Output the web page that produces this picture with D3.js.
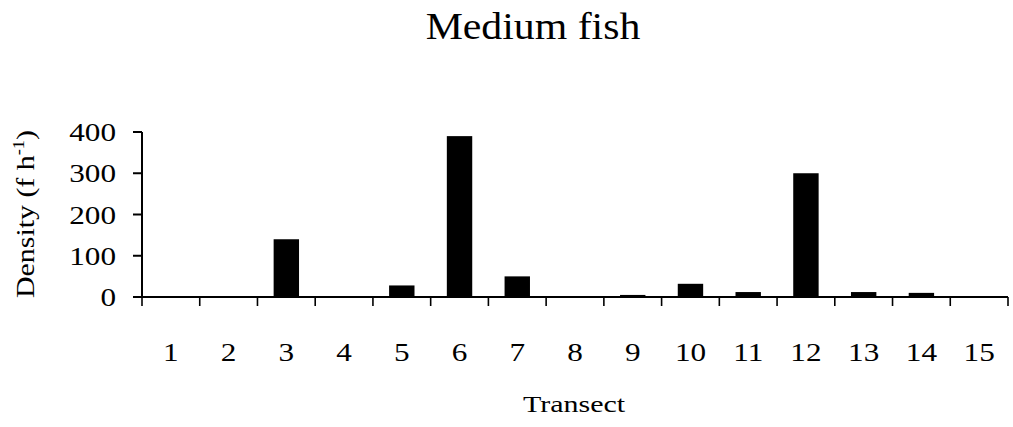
<!DOCTYPE html>
<html>
<head>
<meta charset="utf-8">
<script src="https://cdn.jsdelivr.net/npm/d3@7"></script>
<style>
  html, body { margin: 0; padding: 0; background: #fff; }
  svg { display: block; }
  text { font-family: "Liberation Serif", "Times New Roman", serif; fill: #000; }
</style>
</head>
<body>
<svg id="chart" width="1013" height="427"></svg>
<script>
// Medium fish density per transect
const transects = ["1","2","3","4","5","6","7","8","9","10","11","12","13","14","15"];
const density   = [2, 2, 140, 0, 28, 390, 50, 2, 5, 32, 12, 300, 12, 10, 0];
const yTicks    = [0, 100, 200, 300, 400];

const svg = d3.select("#chart");
const margin = { left: 142, right: 1008, top: 132, bottom: 297 };

const x = d3.scaleBand().domain(transects).range([margin.left, margin.right]).padding(0);
const y = d3.scaleLinear().domain([0, 400]).range([margin.bottom, margin.top]);

const barW = x.bandwidth() * 0.44;

// helper: text stretched horizontally around its anchor point
function stretched(g, tx, ty, sx, rot) {
  return g.append("text")
    .attr("transform", `translate(${tx},${ty})` + (rot ? ` rotate(${rot})` : "") + ` scale(${sx},1)`);
}

// title
stretched(svg, 533, 39, 1.1).attr("text-anchor", "middle").attr("font-size", 38).text("Medium fish");

// bars
svg.append("g").selectAll("rect")
  .data(density)
  .join("rect")
  .attr("x", (d, i) => x(transects[i]) + (x.bandwidth() - barW) / 2)
  .attr("width", barW)
  .attr("y", d => y(d))
  .attr("height", d => y(0) - y(d))
  .attr("fill", "#000");

// y axis
const yAxis = svg.append("g");
yAxis.append("line")
  .attr("x1", margin.left).attr("x2", margin.left)
  .attr("y1", y(400)).attr("y2", y(0))
  .attr("stroke", "#000").attr("stroke-width", 2);
yAxis.selectAll("line.tick")
  .data(yTicks)
  .join("line")
  .attr("class", "tick")
  .attr("x1", margin.left - 9).attr("x2", margin.left)
  .attr("y1", d => y(d)).attr("y2", d => y(d))
  .attr("stroke", "#000").attr("stroke-width", 2);
yTicks.forEach(t => {
  stretched(yAxis, 116, y(t) + 9, 1.2).attr("text-anchor", "end").attr("font-size", 26).text(t);
});

// x axis
const xAxis = svg.append("g");
xAxis.append("line")
  .attr("x1", margin.left).attr("x2", margin.right)
  .attr("y1", y(0)).attr("y2", y(0))
  .attr("stroke", "#000").attr("stroke-width", 2);
const bounds = transects.map(t => x(t)).concat([margin.right]);
xAxis.selectAll("line.tick")
  .data(bounds)
  .join("line")
  .attr("class", "tick")
  .attr("x1", d => d).attr("x2", d => d)
  .attr("y1", y(0)).attr("y2", y(0) + 9)
  .attr("stroke", "#000").attr("stroke-width", 1.6);
transects.forEach(t => {
  stretched(xAxis, x(t) + x.bandwidth() / 2, 361, 1.2).attr("text-anchor", "middle").attr("font-size", 26).text(t);
});

// axis titles
stretched(svg, 574, 412, 1.25).attr("text-anchor", "middle").attr("font-size", 24).text("Transect");

const yt = stretched(svg, 34, 214, 1.15, -90).attr("text-anchor", "middle").attr("font-size", 26);
yt.append("tspan").text("Density (f h");
yt.append("tspan").attr("font-size", 16).attr("dy", -10).text("-1");
yt.append("tspan").attr("dy", 10).text(")");
</script>
</body>
</html>
